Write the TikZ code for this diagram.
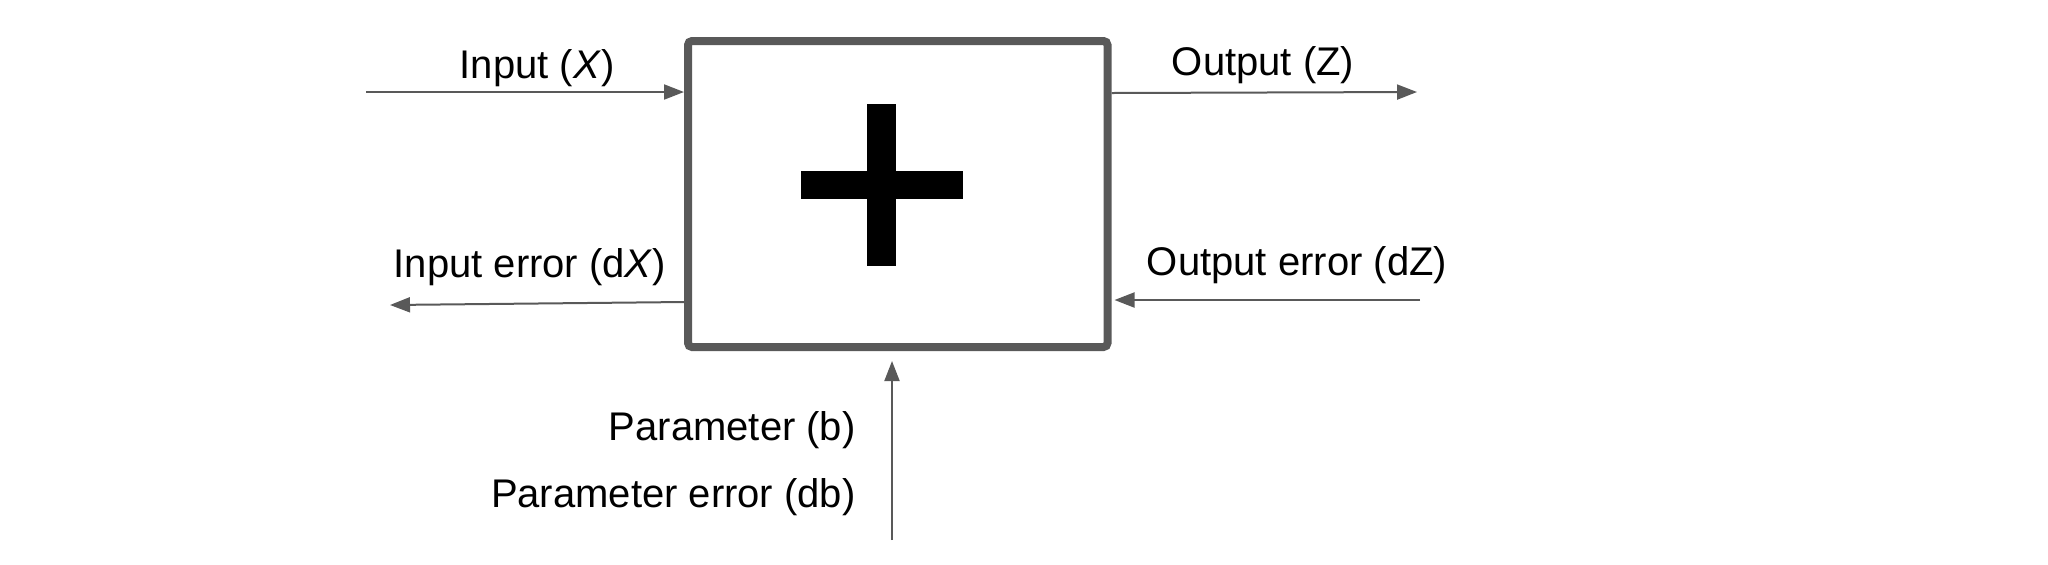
\documentclass[tikz,border=0pt]{standalone}
\usepackage{fontspec}
\setmainfont{Liberation Sans}
\usetikzlibrary{arrows.meta,calc}
\definecolor{linegray}{HTML}{595959}
\begin{document}
\begin{tikzpicture}[x=0.5pt,y=-0.5pt,
  blockbox/.style={draw=linegray,line width=4pt,rounded corners=2pt,inner sep=0pt,
    minimum width=209.75pt,minimum height=153pt},
  lbl/.style={inner sep=0pt,font=\fontsize{20pt}{24pt}\selectfont},
  conn/.style={draw=linegray,line width=1pt,-{Triangle[length=10pt,width=7.5pt]}},
  plusbar/.style={fill=black,draw=none}]
\useasboundingbox (0,0) rectangle (2048,564);
\node[blockbox] (box) at (897.75,194) {};
\fill[plusbar] (867,104) rectangle (896,266);
\fill[plusbar] (801,171) rectangle (963,199);
% labels
\node[lbl,anchor=base] (inlbl) at (537,78) {Input (\textit{X})};
\node[lbl,anchor=base] (outlbl) at (1263,75) {Output (Z)};
\node[lbl,anchor=base] (inerr) at (530,277) {Input error (d\textit{X})};
\node[lbl,anchor=base] (outerr) at (1297,275) {Output error (dZ)};
\node[lbl,anchor=base east] (par) at (856,440) {Parameter (b)};
\node[lbl,anchor=base east] (parerr) at (856,507) {Parameter error (db)};
% coordinates
\coordinate (inS) at (366,92);
\coordinate (outE) at (1417,92);
\coordinate (inerrE) at (390,305);
\coordinate (outerrS) at (1420,300);
\coordinate (parS) at (892,540);
% connectors
\draw[conn] (inS) -- (inS -| box.west);
\draw[conn] (box.east |- 0,93) -- (outE);
\draw[conn] (box.west |- 0,302) -- (inerrE);
\draw[conn,shorten >=1.5pt] (outerrS) -- (outerrS -| box.east);
\draw[conn,shorten >=5pt] (parS) -- (parS |- box.south);
\end{tikzpicture}
\end{document}
